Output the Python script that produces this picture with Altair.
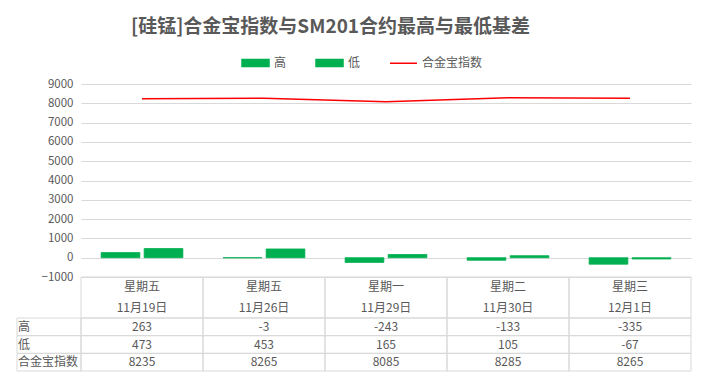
import altair as alt
import pandas as pd

# ---- data ----
days = ["星期五", "星期五", "星期一", "星期二", "星期三"]
dates = ["11月19日", "11月26日", "11月29日", "11月30日", "12月1日"]
high_vals = [263, -3, -243, -133, -335]
low_vals = [473, 453, 165, 105, -67]
index_vals = [8235, 8265, 8085, 8285, 8265]
series_names = ["高", "低", "合金宝指数"]
y_ticks = [-1000, 0, 1000, 2000, 3000, 4000, 5000, 6000, 7000, 8000, 9000]
title_text = "[硅锰]合金宝指数与SM201合约最高与最低基差"

GREEN = "#00B050"
RED = "#FF0000"
GRID = "#D9D9D9"
TEXT = "#595959"
FONT = "Noto Sans CJK SC"

# ---- tables built from the arrays ----
bars_df = pd.DataFrame({
    "date": dates * 2,
    "series": ["高"] * len(dates) + ["低"] * len(dates),
    "value": high_vals + low_vals,
})
line_df = pd.DataFrame({"date": dates, "series": "合金宝指数", "value": index_vals})

header_rows = ["h1", "h2"]
header_records = []
for d, day in zip(dates, days):
    header_records += [{"date": d, "row": "h1", "text": day},
                       {"date": d, "row": "h2", "text": d}]
header_df = pd.DataFrame(header_records)
date_df = pd.DataFrame({"date": dates})

cell_records = []
for d, h, l, ix in zip(dates, high_vals, low_vals, index_vals):
    cell_records += [
        {"date": d, "row": "高", "text": str(h)},
        {"date": d, "row": "低", "text": str(l)},
        {"date": d, "row": "合金宝指数", "text": str(ix)},
    ]
cells_df = pd.DataFrame(cell_records)
row_label_df = pd.DataFrame({"row": series_names})

# ---- top chart: bars + line ----
x_top = alt.X("date:N", sort=dates,
              scale=alt.Scale(domain=dates, paddingInner=0.33, paddingOuter=0.165),
              axis=None)
y_top = alt.Y("value:Q",
              scale=alt.Scale(domain=[-1000, 9000], nice=False),
              axis=alt.Axis(values=y_ticks, format="d", title=None, domain=False,
                            ticks=False, grid=True, gridColor=GRID, gridWidth=1,
                            labelColor=TEXT, labelFontSize=11.5, labelFont=FONT,
                            labelPadding=8))
color = alt.Color(
    "series:N",
    scale=alt.Scale(domain=series_names, range=[GREEN, GREEN, RED]),
    legend=alt.Legend(
        title=None, orient="none", legendX=160, legendY=-36,
        direction="horizontal",
        symbolType={"expr": "datum.value == '合金宝指数' ? 'stroke' : 'M-1,-0.26H1V0.26H-1Z'"},
        symbolStrokeColor={"expr": "datum.value == '合金宝指数' ? '#FF0000' : '#00B050'"},
        symbolSize=729, symbolStrokeWidth=1.5,
        labelFontSize=12, labelFont=FONT, labelColor=TEXT,
        columnPadding=26, labelOffset=4,
    ),
)

bar_layer = alt.Chart(bars_df).mark_bar(stroke=GREEN, strokeWidth=0.8).encode(
    x=x_top,
    xOffset=alt.XOffset("series:N", sort=["高", "低"],
                        scale=alt.Scale(domain=["高", "低"], paddingInner=0.1)),
    y=y_top,
    color=color,
)
line_layer = alt.Chart(line_df).mark_line(strokeWidth=1.5).encode(
    x=x_top, y=y_top, color=color,
)
top = alt.layer(bar_layer, line_layer).properties(
    width=610, height=193, view=alt.ViewBackground(stroke="transparent")
)

# ---- data table: header cells ----
x_tab = alt.X("date:N", sort=dates,
              scale=alt.Scale(domain=dates, paddingInner=0, paddingOuter=0),
              axis=None)
y_head = alt.Y("row:N", sort=header_rows,
               scale=alt.Scale(domain=header_rows, paddingInner=0, paddingOuter=0),
               axis=None)
head_rects = alt.Chart(date_df).mark_rect(
    fill="transparent", stroke=GRID, strokeWidth=1
).encode(x=x_tab)
head_text = alt.Chart(header_df).mark_text(
    fontSize=12, font=FONT, color=TEXT
).encode(x=x_tab, y=y_head, text="text:N")
header = alt.layer(head_rects, head_text).properties(
    width=610, height=41, view=alt.ViewBackground(stroke="transparent")
)

# ---- data table: value rows ----
y_tab = alt.Y("row:N", sort=series_names,
              scale=alt.Scale(domain=series_names, paddingInner=0, paddingOuter=0),
              axis=None)
cell_rects = alt.Chart(cells_df).mark_rect(
    fill="transparent", stroke=GRID, strokeWidth=1
).encode(x=x_tab, y=y_tab)
label_rects = alt.Chart(row_label_df).mark_rect(
    fill="transparent", stroke=GRID, strokeWidth=1
).encode(x=alt.value(-64), x2=alt.value(0), y=y_tab)
cell_text = alt.Chart(cells_df).mark_text(
    fontSize=12, font=FONT, color=TEXT
).encode(x=x_tab, y=y_tab, text="text:N")
label_text = alt.Chart(row_label_df).mark_text(
    fontSize=12, font=FONT, color=TEXT, align="left"
).encode(x=alt.value(-63), y=y_tab, text="row:N")
table = alt.layer(cell_rects, label_rects, cell_text, label_text).properties(
    width=610, height=53, view=alt.ViewBackground(stroke="transparent")
)

chart = alt.vconcat(top, header, table, spacing=0, bounds="flush").properties(
    title=alt.Title(title_text, fontSize=19, fontWeight="bold", color=TEXT,
                    font=FONT, anchor="start", frame="group", dx=50, offset=11),
    padding={"left": 8, "top": 10, "right": 5, "bottom": 5},
).configure(background="white")

chart.save("out.html", embed_options={"renderer": "svg", "actions": False})
